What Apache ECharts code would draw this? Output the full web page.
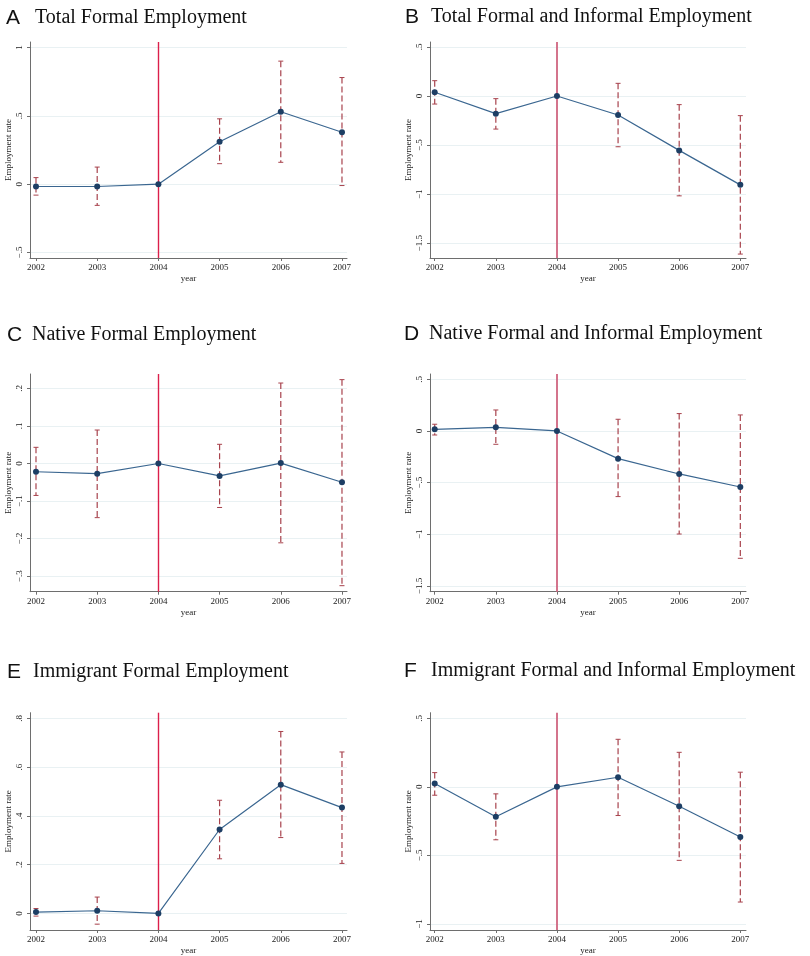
<!DOCTYPE html>
<html>
<head>
<meta charset="utf-8">
<script src="https://cdn.jsdelivr.net/npm/echarts@6/dist/echarts.min.js"></script>
<style>
  html, body { margin: 0; padding: 0; background: #fff; }
  #chart { width: 810px; height: 956px; }
</style>
</head>
<body>
<div id="chart"></div>
<script>
// years on the x axis
const years = [2002, 2003, 2004, 2005, 2006, 2007];

// A: total formal employment
const totalFormal   = [-0.017, -0.017, 0, 0.31, 0.53, 0.38];
const totalFormalLo = [-0.08, -0.155, null, 0.15, 0.16, -0.01];
const totalFormalHi = [0.048, 0.125, null, 0.478, 0.9, 0.78];

// B: total formal and informal employment
const totalAll   = [0.038, -0.18, 0, -0.194, -0.554, -0.905];
const totalAllLo = [-0.082, -0.337, null, -0.517, -1.017, -1.61];
const totalAllHi = [0.156, -0.027, null, 0.129, -0.088, -0.2];

// C: native formal employment
const nativeFormal   = [-0.022, -0.027, 0, -0.033, 0.001, -0.05];
const nativeFormalLo = [-0.085, -0.144, null, -0.117, -0.211, -0.325];
const nativeFormalHi = [0.043, 0.089, null, 0.051, 0.214, 0.223];

// D: native formal and informal employment
const nativeAll   = [0.016, 0.035, 0, -0.268, -0.416, -0.542];
const nativeAllLo = [-0.039, -0.129, null, -0.635, -0.997, -1.232];
const nativeAllHi = [0.065, 0.203, null, 0.113, 0.168, 0.155];

// E: immigrant formal employment
const immFormal   = [0.0055, 0.011, 0, 0.344, 0.528, 0.434];
const immFormalLo = [-0.011, -0.044, null, 0.224, 0.311, 0.205];
const immFormalHi = [0.02, 0.067, null, 0.464, 0.746, 0.662];

// F: immigrant formal and informal employment
const immAll   = [0.024, -0.218, 0, 0.07, -0.141, -0.366];
const immAllLo = [-0.061, -0.386, null, -0.209, -0.536, -0.84];
const immAllHi = [0.104, -0.051, null, 0.347, 0.252, 0.107];

// y tick values for each panel
const ticksA = [-0.5, 0, 0.5, 1];
const ticksB = [-1.5, -1, -0.5, 0, 0.5];
const ticksC = [-0.3, -0.2, -0.1, 0, 0.1, 0.2];
const ticksD = [-1.5, -1, -0.5, 0, 0.5];
const ticksE = [0, 0.2, 0.4, 0.6, 0.8];
const ticksF = [-1, -0.5, 0, 0.5];

const refYear = 2004;

const panels = [
  { letter: 'A', title: 'Total Formal Employment', est: totalFormal, lo: totalFormalLo, hi: totalFormalHi, ticks: ticksA, ymin: -0.54, ymax: 1.04 },
  { letter: 'B', title: 'Total Formal and Informal Employment', est: totalAll, lo: totalAllLo, hi: totalAllHi, ticks: ticksB, ymin: -1.65, ymax: 0.55 },
  { letter: 'C', title: 'Native Formal Employment', est: nativeFormal, lo: nativeFormalLo, hi: nativeFormalHi, ticks: ticksC, ymin: -0.341, ymax: 0.238 },
  { letter: 'D', title: 'Native Formal and Informal Employment', est: nativeAll, lo: nativeAllLo, hi: nativeAllHi, ticks: ticksD, ymin: -1.555, ymax: 0.551 },
  { letter: 'E', title: 'Immigrant Formal Employment', est: immFormal, lo: immFormalLo, hi: immFormalHi, ticks: ticksE, ymin: -0.068, ymax: 0.823 },
  { letter: 'F', title: 'Immigrant Formal and Informal Employment', est: immAll, lo: immAllLo, hi: immAllHi, ticks: ticksF, ymin: -1.044, ymax: 0.541 }
];

// layout of the six panels (pixels)
const layout = [
  { left: 30,  right: 347, top: 42,    bottom: 258,   xmin: 2001.902, xmax: 2007.082, letterX: 6,   titleX: 35,  titleY: 19,  vline: '#dc1f4b', vw: 1.4 },
  { left: 430, right: 746, top: 42,    bottom: 258,   xmin: 2001.923, xmax: 2007.093, letterX: 405, titleX: 431, titleY: 17.5, vline: '#d06580', vw: 1.8 },
  { left: 30,  right: 347, top: 374,   bottom: 591.7, xmin: 2001.902, xmax: 2007.082, letterX: 7,   titleX: 32,  titleY: 335.5, vline: '#dc1f4b', vw: 1.4 },
  { left: 430, right: 746, top: 374,   bottom: 591.7, xmin: 2001.923, xmax: 2007.093, letterX: 404, titleX: 429, titleY: 334.3, vline: '#d06580', vw: 1.8 },
  { left: 30,  right: 347, top: 712.7, bottom: 930.3, xmin: 2001.902, xmax: 2007.082, letterX: 7,   titleX: 33,  titleY: 672.5, vline: '#dc1f4b', vw: 1.4 },
  { left: 430, right: 746, top: 712.7, bottom: 930.3, xmin: 2001.923, xmax: 2007.093, letterX: 404, titleX: 431, titleY: 671.8, vline: '#d06580', vw: 1.8 }
];

const serif = '"Liberation Serif", "DejaVu Serif", serif';
const sans = '"Liberation Sans", "DejaVu Sans", sans-serif';
const axisGray = '#6e6e6e';
const navy = '#1d3e64';
const lineBlue = '#3a6690';
const capRed = '#a8434d';

// Stata style tick labels: ".5", "0", "−1.5"
const stataLabel = (v) => {
  let s = String(Math.round(v * 1000) / 1000);
  s = s.replace(/^(-?)0\./, '$1.');
  return s.replace('-', '\u2212');
};

const W = 810, H = 956;
const grids = [], xAxes = [], yAxes = [], series = [], graphics = [];

panels.forEach((p, i) => {
  const L = layout[i];
  grids.push({ left: L.left, top: L.top, width: L.right - L.left, height: L.bottom - L.top });

  xAxes.push({
    gridIndex: i, type: 'value', min: L.xmin, max: L.xmax,
    name: 'year', nameLocation: 'middle', nameGap: 16,
    nameTextStyle: { fontFamily: serif, fontSize: 9, color: '#222' },
    axisLine: { show: true, onZero: false, lineStyle: { color: axisGray, width: 1 } },
    axisTick: { show: true, length: 3, customValues: years, lineStyle: { color: axisGray } },
    axisLabel: { customValues: years, fontFamily: serif, fontSize: 9, color: '#222', margin: 5,
      formatter: (v) => String(Math.round(v)) },
    splitLine: { show: false }
  });

  yAxes.push({
    gridIndex: i, type: 'value', min: p.ymin, max: p.ymax,
    name: 'Employment rate', nameLocation: 'middle', nameGap: 17,
    nameTextStyle: { fontFamily: serif, fontSize: 9, color: '#222' },
    axisLine: { show: true, onZero: false, lineStyle: { color: axisGray, width: 1 } },
    axisTick: { show: true, length: 3, customValues: p.ticks, lineStyle: { color: axisGray } },
    axisLabel: { customValues: p.ticks, rotate: 90, fontFamily: serif, fontSize: 9, color: '#222', margin: 6,
      formatter: stataLabel },
    splitLine: { show: true, lineStyle: { color: '#e9f1f3', width: 1 } }
  });

  const bars = years.map((y, k) => [y, p.lo[k], p.hi[k]]).filter(d => d[1] !== null);

  series.push({
    type: 'custom', xAxisIndex: i, yAxisIndex: i, data: bars,
    encode: { x: 0, y: [1, 2] }, z: 2,
    renderItem: (params, api) => {
      const x = api.value(0);
      const top = api.coord([x, api.value(2)]);
      const bot = api.coord([x, api.value(1)]);
      const w = 2.5;
      return {
        type: 'group',
        children: [
          { type: 'line', shape: { x1: top[0], y1: top[1], x2: bot[0], y2: bot[1] },
            style: { stroke: capRed, lineWidth: 1.2, lineDash: [6, 3] } },
          { type: 'line', shape: { x1: top[0] - w, y1: top[1], x2: top[0] + w, y2: top[1] },
            style: { stroke: capRed, lineWidth: 1 } },
          { type: 'line', shape: { x1: bot[0] - w, y1: bot[1], x2: bot[0] + w, y2: bot[1] },
            style: { stroke: capRed, lineWidth: 1 } }
        ]
      };
    }
  });

  series.push({
    type: 'line', xAxisIndex: i, yAxisIndex: i, z: 3,
    data: years.map((y, k) => [y, p.est[k]]),
    symbol: 'circle', symbolSize: 6,
    itemStyle: { color: navy },
    lineStyle: { color: lineBlue, width: 1.2 },
    markLine: {
      silent: true, symbol: 'none', label: { show: false }, z: 1,
      lineStyle: { color: L.vline, width: L.vw, type: 'solid' },
      data: [{ xAxis: refYear }]
    }
  });

  graphics.push({
    type: 'text', left: L.letterX, top: L.titleY - 11,
    style: { text: p.letter, font: '21px ' + sans, fill: '#111' }
  });
  graphics.push({
    type: 'text', left: L.titleX, top: L.titleY - 11,
    style: { text: p.title, font: '20px ' + serif, fill: '#111' }
  });
});

const chart = echarts.init(document.getElementById('chart'), null, { width: W, height: H });
chart.setOption({
  animation: false,
  backgroundColor: '#fff',
  grid: grids,
  xAxis: xAxes,
  yAxis: yAxes,
  series: series,
  graphic: graphics
});
</script>
</body>
</html>
